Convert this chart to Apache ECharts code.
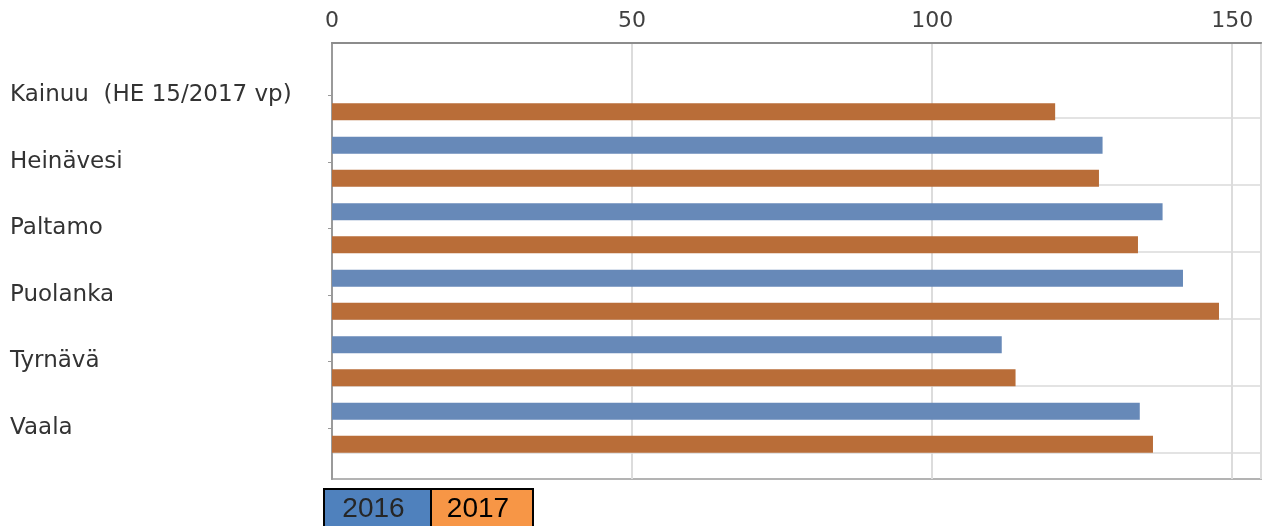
<!DOCTYPE html>
<html>
<head>
<meta charset="utf-8">
<script src="https://cdn.jsdelivr.net/npm/echarts@6/dist/echarts.min.js"></script>
<style>
html,body{margin:0;padding:0;background:#fff;}
#chart{width:1264px;height:526px;}
</style>
</head>
<body>
<div id="chart"></div>
<script>
const categories = ['Kainuu  (HE 15/2017 vp)', 'Heinävesi', 'Paltamo', 'Puolanka', 'Tyrnävä', 'Vaala'];
const seriesNames = ['2016', '2017'];
const values2016 = [null, 128.4, 138.4, 141.8, 111.6, 134.6];
const values2017 = [120.5, 127.8, 134.3, 147.8, 113.9, 136.8];
const xTicks = [0, 50, 100, 150];

const barColors = ['#6789B8', '#B96D38'];
const legendColors = ['#4F81BD', '#F79646'];
const legendTextColors = ['#262626', '#000000'];

const chart = echarts.init(document.getElementById('chart'), null, {renderer: 'canvas'});

const xMax = 154.8;
const fontFam = '"DejaVu Sans", sans-serif';

const legendGraphics = seriesNames.map((name, i) => ({
  type: 'group',
  left: 323 + i * 107,
  top: 488,
  children: [
    {type: 'rect', shape: {x: 0, y: 0, width: i === 0 ? 107 : 102, height: 44},
     style: {fill: legendColors[i], stroke: '#000', lineWidth: 2}},
    {type: 'text', x: (i === 0 ? 107 : 102) / 2 - 4, y: 20,
     style: {text: name, fill: legendTextColors[i], font: '28px "Liberation Sans", Arial, sans-serif',
             textAlign: 'center', textVerticalAlign: 'middle'}}
  ]
}));

chart.setOption({
  animation: false,
  backgroundColor: '#ffffff',
  grid: [
    {left: 332, right: 3, top: 43, bottom: 47, show: true, borderColor: '#b3b3b3', borderWidth: 2, backgroundColor: 'transparent', z: 0},
    {left: 332, right: 3, top: 118, bottom: 73, show: false},
    {left: 332, right: 3, top: 62, bottom: 65, show: false}
  ],
  xAxis: [
    {gridIndex: 0, type: 'value', position: 'top', min: 0, max: xMax, interval: 50,
     axisLine: {show: true, lineStyle: {color: '#8c8c8c', width: 2}},
     axisTick: {show: false},
     axisLabel: {show: true, margin: 11, color: '#404040', fontSize: 22, fontFamily: fontFam, showMaxLabel: false,
       formatter: v => (xTicks.indexOf(v) >= 0 ? String(v) : '')},
     splitLine: {show: true, lineStyle: {color: '#dcdcdc', width: 2}}},
    {gridIndex: 1, type: 'value', min: 0, max: xMax, show: false},
    {gridIndex: 2, type: 'value', min: 0, max: xMax, show: false}
  ],
  yAxis: [
    {gridIndex: 0, type: 'value', min: 0, max: 1, inverse: true,
     axisLine: {show: true, lineStyle: {color: '#9a9a9a', width: 2}},
     axisTick: {show: false}, axisLabel: {show: false}, splitLine: {show: false}},
    {gridIndex: 1, type: 'value', min: 0, max: 5, interval: 1,
     axisLine: {show: false}, axisTick: {show: false}, axisLabel: {show: false},
     splitLine: {show: true, lineStyle: {color: '#e3e3e3', width: 2}}},
    {gridIndex: 2, type: 'category', data: categories, inverse: true,
     axisLine: {show: false},
     axisTick: {show: true, alignWithLabel: true, length: 4, lineStyle: {color: '#9a9a9a', width: 1}},
     axisLabel: {show: true, align: 'left', margin: 322, color: '#333333', fontSize: 23, fontFamily: fontFam,
       padding: [4, 0, 0, 0]},
     splitLine: {show: false}}
  ],
  series: [
    {name: seriesNames[0], type: 'bar', xAxisIndex: 2, yAxisIndex: 2, data: values2016,
     barWidth: 17, barGap: '94%', itemStyle: {color: barColors[0]}, z: 3},
    {name: seriesNames[1], type: 'bar', xAxisIndex: 2, yAxisIndex: 2, data: values2017,
     barWidth: 17, barGap: '94%', itemStyle: {color: barColors[1]}, z: 3}
  ],
  graphic: legendGraphics
});
</script>
</body>
</html>
